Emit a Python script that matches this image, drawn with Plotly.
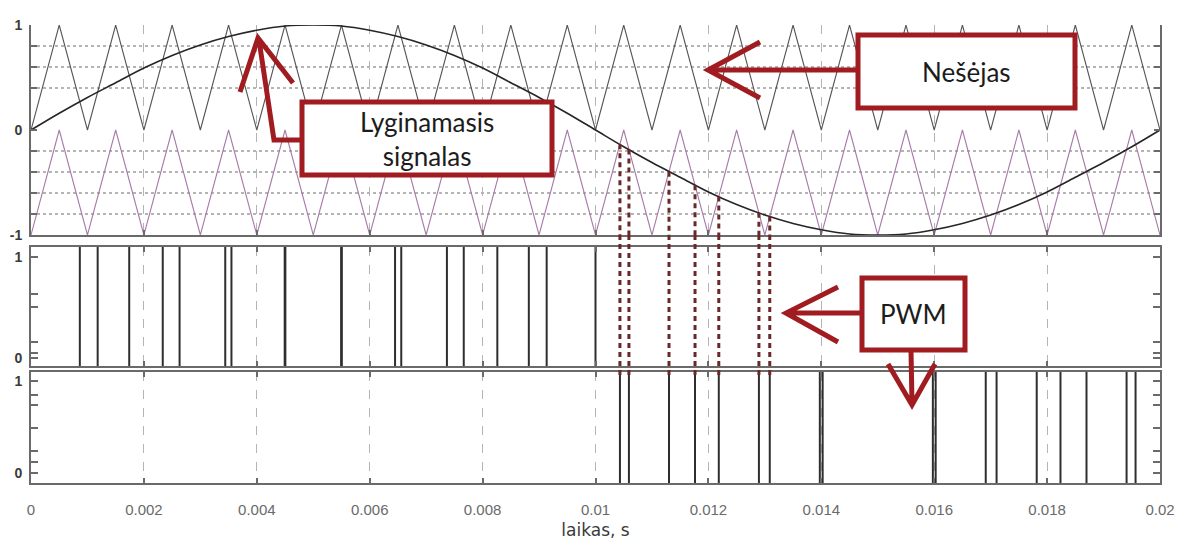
import plotly.graph_objects as go
from plotly.subplots import make_subplots

# ---- data -----------------------------------------------------------------
# time instants (s) of the carrier vertices, 0.5 ms apart
t_vertex = [0.0, 0.0005, 0.001, 0.0015, 0.002, 0.0025, 0.003, 0.0035, 0.004, 0.0045,
            0.005, 0.0055, 0.006, 0.0065, 0.007, 0.0075, 0.008, 0.0085, 0.009, 0.0095,
            0.01, 0.0105, 0.011, 0.0115, 0.012, 0.0125, 0.013, 0.0135, 0.014, 0.0145,
            0.015, 0.0155, 0.016, 0.0165, 0.017, 0.0175, 0.018, 0.0185, 0.019, 0.0195,
            0.02]

# reference (modulating) signal sampled at the same instants
reference_signal = [0.0, 0.16, 0.31, 0.45, 0.59, 0.71, 0.81, 0.89, 0.95, 0.99,
                    1.0, 0.99, 0.95, 0.89, 0.81, 0.71, 0.59, 0.45, 0.31, 0.16,
                    0.0, -0.16, -0.31, -0.45, -0.59, -0.71, -0.81, -0.89, -0.95, -0.99,
                    -1.0, -0.99, -0.95, -0.89, -0.81, -0.71, -0.59, -0.45, -0.31, -0.16,
                    0.0]

# triangular carriers: upper (0..1) and lower (-1..0)
carrier_upper = [0, 1, 0, 1, 0, 1, 0, 1, 0, 1, 0, 1, 0, 1, 0, 1, 0, 1, 0, 1,
                 0, 1, 0, 1, 0, 1, 0, 1, 0, 1, 0, 1, 0, 1, 0, 1, 0, 1, 0, 1, 0]
carrier_lower = [-1, 0, -1, 0, -1, 0, -1, 0, -1, 0, -1, 0, -1, 0, -1, 0, -1, 0, -1, 0,
                 -1, 0, -1, 0, -1, 0, -1, 0, -1, 0, -1, 0, -1, 0, -1, 0, -1, 0, -1, 0, -1]

# switching instants (s) of the two PWM outputs
pwm_upper_edges = [0.000865, 0.001181, 0.00174, 0.002334, 0.002632, 0.003441, 0.003551,
                   0.004494, 0.004506, 0.005494, 0.005506, 0.006449, 0.006559, 0.007368,
                   0.007666, 0.008261, 0.008819, 0.009135, 0.01]
pwm_lower_edges = [0.010433, 0.010592, 0.011302, 0.011763, 0.012184, 0.012895, 0.013087,
                   0.013974, 0.014024, 0.015976, 0.016026, 0.016913, 0.017105, 0.017816,
                   0.018237, 0.018698, 0.019408, 0.019567]

# projection guides: crossing instants and the signal level at each crossing
guide_times = [0.010433, 0.010592, 0.011302, 0.011763, 0.012184, 0.012895, 0.013087]
guide_levels = [-0.136, -0.185, -0.398, -0.526, -0.634, -0.789, -0.825]

x_tick_vals = [0, 0.002, 0.004, 0.006, 0.008, 0.01, 0.012, 0.014, 0.016, 0.018, 0.02]
x_tick_text = ["0", "0.002", "0.004", "0.006", "0.008", "0.01", "0.012", "0.014",
               "0.016", "0.018", "0.02"]

# ---- styling ----------------------------------------------------------------
W, H = 1178, 540
ML, MR, MT, MB = 31, 18, 25, 57
PW, PH = W - ML - MR, H - MT - MB
FRAME = "#6a6a6a"
GRID = "#b4b4b4"
RED = "#a01c21"
GUIDE = "#6a2828"
EDGE = "#2e2e2e"
LABEL_FONT = dict(family="Lato", size=26, color="#1c1c1c")
TICK_FONT = dict(family="Liberation Sans", size=14, color="#3a3a3a", weight="bold")

Y1_RANGE = [-1, 1]
Y2_RANGE = [-0.079, 1.099]
Y3_RANGE = [-0.109, 1.098]


def px_x(x):
    return (x - ML) / PW


def px_y(y):
    return (H - MB - y) / PH


def edge_strokes(edges, yrange):
    """Vertical strokes across the full panel height, one per switching edge."""
    xs, ys = [], []
    for t in edges:
        xs += [t, t, None]
        ys += [yrange[0], yrange[1], None]
    return xs, ys


fig = make_subplots(rows=3, cols=1, shared_xaxes=True, vertical_spacing=0.02)

fig.add_trace(go.Scatter(x=t_vertex, y=carrier_upper, mode="lines",
                         line=dict(color="#555555", width=1.1), name="Nešėjas"),
              row=1, col=1)
fig.add_trace(go.Scatter(x=t_vertex, y=carrier_lower, mode="lines",
                         line=dict(color="#a77aa8", width=1.1), name="Nešėjas (−)"),
              row=1, col=1)
fig.add_trace(go.Scatter(x=t_vertex, y=reference_signal, mode="lines",
                         line=dict(color="#262626", width=1.6, shape="spline"),
                         name="Lyginamasis signalas"),
              row=1, col=1)

ex, ey = edge_strokes(pwm_upper_edges, Y2_RANGE)
fig.add_trace(go.Scatter(x=ex, y=ey, mode="lines", line=dict(color=EDGE, width=2),
                         name="PWM +"), row=2, col=1)
ex, ey = edge_strokes(pwm_lower_edges, Y3_RANGE)
fig.add_trace(go.Scatter(x=ex, y=ey, mode="lines", line=dict(color=EDGE, width=2),
                         name="PWM −"), row=3, col=1)

dom_top = [px_y(235), 1.0]
dom_mid = [px_y(366), px_y(247)]
dom_bot = [0.0, px_y(372)]

xcommon = dict(range=[0, 0.02], tickvals=x_tick_vals, ticktext=x_tick_text,
               showline=True, linecolor=FRAME, linewidth=2, ticks="inside",
               ticklen=5, tickcolor=FRAME, tickwidth=2, automargin=False,
               showgrid=True, gridcolor=GRID, griddash="dash", gridwidth=1,
               zeroline=False)
ycommon = dict(showline=True, linecolor=FRAME, linewidth=2, mirror="ticks",
               ticks="inside", tickcolor=FRAME, tickwidth=2, automargin=False,
               showgrid=False, zeroline=False, ticklabelstandoff=4, tickfont=TICK_FONT)
fig.update_layout(
    xaxis=dict(**xcommon, mirror=False, showticklabels=False),
    xaxis2=dict(**xcommon, mirror="ticks", showticklabels=False),
    xaxis3=dict(**xcommon, mirror="ticks", showticklabels=True,
                tickfont=dict(family="Liberation Sans", size=15, color="#6a6a6a"),
                ticklabelstandoff=12,
                title=dict(text="laikas, s", standoff=11,
                           font=dict(family="DejaVu Sans", size=17, color="#3a3a3a"))),
    yaxis=dict(**ycommon, domain=dom_top, range=Y1_RANGE, tickvals=[-1, 0, 1],
               ticktext=["-1", "0", "1"], ticklen=6,
               minor=dict(tickvals=[-0.8, -0.6, -0.4, -0.2, 0.4, 0.6, 0.8],
                          ticks="inside", ticklen=6, tickcolor=FRAME, tickwidth=2,
                          showgrid=True, gridcolor=GRID, griddash="dot", gridwidth=1.5)),
    yaxis2=dict(**ycommon, domain=dom_mid, range=Y2_RANGE, tickvals=[0, 1],
                ticktext=["0", "1"], ticklen=7,
                minor=dict(tickvals=[0.05, 0.16, 0.51, 0.63], ticks="inside", ticklen=7,
                           tickcolor=FRAME, tickwidth=2, showgrid=False)),
    yaxis3=dict(**ycommon, domain=dom_bot, range=Y3_RANGE, tickvals=[0, 1],
                ticktext=["0", "1"], ticklen=7,
                minor=dict(tickvals=[0.12, 0.24, 0.49, 0.74, 0.85], ticks="inside",
                           ticklen=7, tickcolor=FRAME, tickwidth=2, showgrid=False)),
)

# dashed projections from the crossing points down to the lower PWM panel
for t, lvl in zip(guide_times, guide_levels):
    fig.add_shape(type="line", xref="x", yref="y", x0=t, x1=t, y0=lvl, y1=-1,
                  line=dict(color=GUIDE, width=3, dash="5px,4px"), layer="above")
    fig.add_shape(type="line", xref="x", yref="paper", x0=t, x1=t,
                  y0=dom_top[0], y1=dom_bot[1] - 0.008,
                  line=dict(color=GUIDE, width=3, dash="5px,4px"), layer="above")

# callout boxes
boxes = [
    ((302, 102, 552, 175), "Lyginamasis<br>signalas"),
    ((858, 35, 1075, 108), "Nešėjas"),
    ((862, 278, 965, 350), "PWM"),
]
for (x0, y0, x1, y1), txt in boxes:
    fig.add_shape(type="rect", xref="paper", yref="paper",
                  x0=px_x(x0), x1=px_x(x1), y0=px_y(y1), y1=px_y(y0),
                  line=dict(color=RED, width=5), fillcolor="white", layer="above")
    fig.add_annotation(xref="paper", yref="paper", x=px_x((x0 + x1) / 2),
                       y=px_y((y0 + y1) / 2), text=txt, showarrow=False,
                       font=LABEL_FONT, align="center", xanchor="center", yanchor="middle")

# callout arrows (open V heads)
arrows = [
    [(302, 140), (274, 140), (259, 40)],
    [(858, 70), (709, 70)],
    [(862, 313), (787, 313)],
    [(911, 350), (912, 404)],
]
heads = [
    ((258, 38), (240, 92), (293, 83)),
    ((708, 70), (760, 42), (760, 98)),
    ((786, 313), (838, 287), (838, 342)),
    ((912, 405), (888, 364), (935, 364)),
]


def pt(p):
    return f"{px_x(p[0]):.5f},{px_y(p[1]):.5f}"


for shaft, (tip, b1, b2) in zip(arrows, heads):
    path = "M " + " L ".join(pt(p) for p in shaft)
    path += f" M {pt(b1)} L {pt(tip)} L {pt(b2)}"
    fig.add_shape(type="path", xref="paper", yref="paper", path=path,
                  line=dict(color=RED, width=5), layer="above")

fig.update_layout(
    width=W, height=H,
    margin=dict(l=ML, r=MR, t=MT, b=MB),
    paper_bgcolor="white", plot_bgcolor="white",
    showlegend=False,
)

fig.write_html("out.html")
